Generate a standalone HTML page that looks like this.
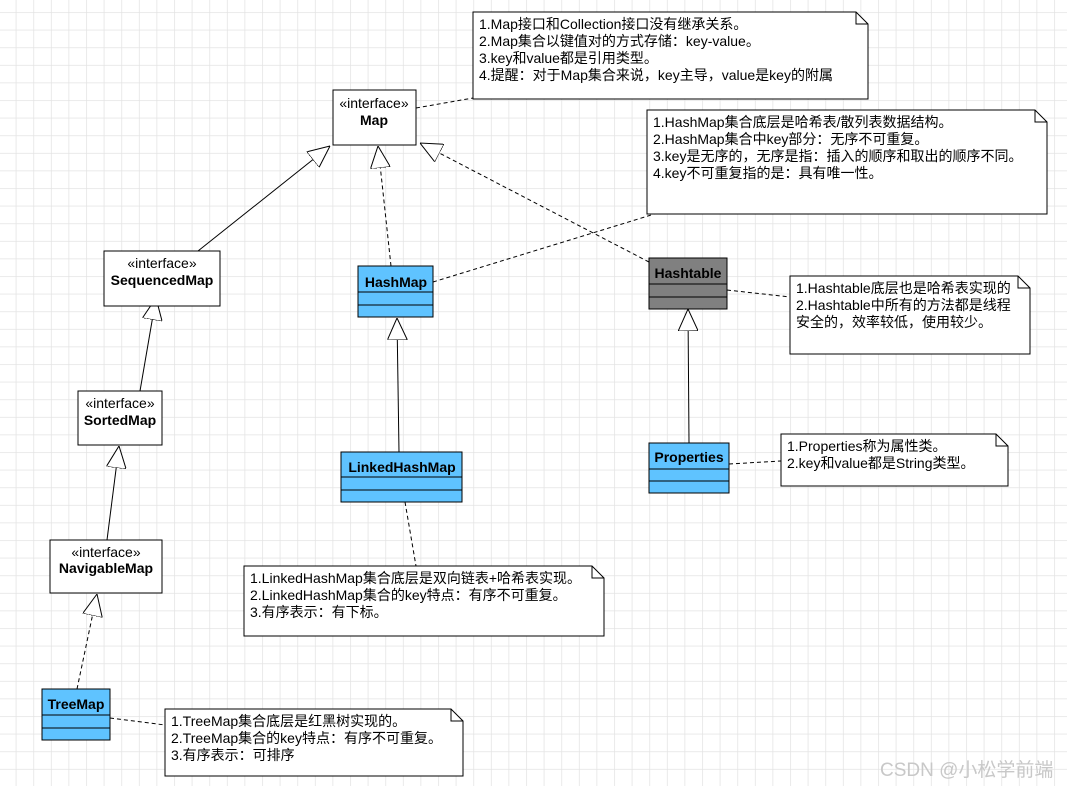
<!DOCTYPE html>
<html><head><meta charset="utf-8"><style>
body{margin:0;width:1067px;height:786px;overflow:hidden;background:#fff}
text{font-family:"Liberation Sans","Noto Sans CJK SC",sans-serif;font-size:14px;fill:#000}
.b{font-weight:bold}
.s{font-size:14px}
</style></head><body>
<svg width="1067" height="786" xmlns="http://www.w3.org/2000/svg">
<defs>
<pattern id="g" x="15.7" y="12.1" width="17.6" height="17.6" patternUnits="userSpaceOnUse">
<path d="M0 0V17.6M0 0H17.6" stroke="#e3e3e3" stroke-width="1.5" fill="none"/></pattern>
<marker id="t" viewBox="0 0 22 20" refX="22" refY="10" markerWidth="22" markerHeight="20" markerUnits="userSpaceOnUse" orient="auto">
<path d="M0 0L22 10L0 20Z" fill="#fff" stroke="#000" stroke-width="1"/></marker>
</defs>
<rect width="1067" height="786" fill="url(#g)"/>
<g stroke="#000" fill="none" stroke-width="1">
<line x1="198" y1="251" x2="330" y2="146" marker-end="url(#t)"/>
<line x1="391" y1="266" x2="378" y2="146" stroke-dasharray="4,3" marker-end="url(#t)"/>
<line x1="649" y1="262" x2="420" y2="143" stroke-dasharray="4,3" marker-end="url(#t)"/>
<line x1="140" y1="391" x2="156" y2="298" marker-end="url(#t)"/>
<line x1="107" y1="540" x2="119" y2="446" marker-end="url(#t)"/>
<line x1="77" y1="689" x2="97" y2="594" stroke-dasharray="4,3" marker-end="url(#t)"/>
<line x1="399" y1="452" x2="397" y2="318" marker-end="url(#t)"/>
<line x1="689" y1="443" x2="688" y2="309" marker-end="url(#t)"/>
<g stroke-dasharray="4,3">
<line x1="416" y1="108" x2="473" y2="98"/>
<line x1="433" y1="282" x2="661" y2="212"/>
<line x1="727" y1="290" x2="790" y2="297"/>
<line x1="729" y1="464" x2="781" y2="461"/>
<line x1="405" y1="502" x2="416" y2="566"/>
<line x1="110" y1="718" x2="165" y2="725"/>
</g>
</g>
<g stroke="#000" fill="#fff">
<rect x="333" y="90" width="83" height="55"/>
<rect x="104" y="251" width="116" height="55"/>
<rect x="78" y="391" width="84" height="54"/>
<rect x="50" y="540" width="112" height="53"/>
</g>
<text x="374" y="108" text-anchor="middle">«interface»</text><text x="374" y="125" text-anchor="middle" class="b">Map</text>
<text x="162" y="268" text-anchor="middle">«interface»</text><text x="162" y="285" text-anchor="middle" class="b">SequencedMap</text>
<text x="120" y="408" text-anchor="middle">«interface»</text><text x="120" y="425" text-anchor="middle" class="b">SortedMap</text>
<text x="106" y="557" text-anchor="middle">«interface»</text><text x="106" y="573" text-anchor="middle" class="b">NavigableMap</text>
<g stroke="#000">
<rect x="358" y="266" width="75" height="51" fill="#5fc3ff"/><line x1="358" y1="292" x2="433" y2="292"/><line x1="358" y1="305" x2="433" y2="305"/>
<rect x="341" y="452" width="121" height="50" fill="#5fc3ff"/><line x1="341" y1="477" x2="462" y2="477"/><line x1="341" y1="490" x2="462" y2="490"/>
<rect x="649" y="258" width="78" height="51" fill="#808080"/><line x1="649" y1="284" x2="727" y2="284"/><line x1="649" y1="297" x2="727" y2="297"/>
<rect x="649" y="443" width="80" height="50" fill="#5fc3ff"/><line x1="649" y1="469" x2="729" y2="469"/><line x1="649" y1="481" x2="729" y2="481"/>
<rect x="42" y="689" width="68" height="51" fill="#5fc3ff"/><line x1="42" y1="715" x2="110" y2="715"/><line x1="42" y1="728" x2="110" y2="728"/>
</g>
<text x="396" y="287" text-anchor="middle" class="b">HashMap</text>
<text x="402" y="472" text-anchor="middle" class="b">LinkedHashMap</text>
<text x="688" y="278" text-anchor="middle" class="b">Hashtable</text>
<text x="689" y="462" text-anchor="middle" class="b">Properties</text>
<text x="76" y="709" text-anchor="middle" class="b">TreeMap</text>
<g stroke="#000" fill="#fff">
<path d="M473 12H856L868 24V99H473Z"/><path d="M856 12V24H868" fill="none"/>
<path d="M647 110H1035L1047 122V214H647Z"/><path d="M1035 110V122H1047" fill="none"/>
<path d="M790 276H1018L1030 288V354H790Z"/><path d="M1018 276V288H1030" fill="none"/>
<path d="M781 434H996L1008 446V486H781Z"/><path d="M996 434V446H1008" fill="none"/>
<path d="M244 566H592L604 578V636H244Z"/><path d="M592 566V578H604" fill="none"/>
<path d="M165 709H451L463 721V776H165Z"/><path d="M451 709V721H463" fill="none"/>
</g>
<text x="479" y="29">1.Map接口和Collection接口没有继承关系。</text>
<text x="479" y="46">2.Map集合以键值对的方式存储：key-value。</text>
<text x="479" y="63">3.key和value都是引用类型。</text>
<text x="479" y="80">4.提醒：对于Map集合来说，key主导，value是key的附属</text>
<text x="653" y="127">1.HashMap集合底层是哈希表/散列表数据结构。</text>
<text x="653" y="144">2.HashMap集合中key部分：无序不可重复。</text>
<text x="653" y="161">3.key是无序的，无序是指：插入的顺序和取出的顺序不同。</text>
<text x="653" y="178">4.key不可重复指的是：具有唯一性。</text>
<text x="796" y="293">1.Hashtable底层也是哈希表实现的</text>
<text x="796" y="310">2.Hashtable中所有的方法都是线程</text>
<text x="796" y="327">安全的，效率较低，使用较少。</text>
<text x="787" y="451">1.Properties称为属性类。</text>
<text x="787" y="468">2.key和value都是String类型。</text>
<text x="250" y="583">1.LinkedHashMap集合底层是双向链表+哈希表实现。</text>
<text x="250" y="600">2.LinkedHashMap集合的key特点：有序不可重复。</text>
<text x="250" y="617">3.有序表示：有下标。</text>
<text x="171" y="726">1.TreeMap集合底层是红黑树实现的。</text>
<text x="171" y="743">2.TreeMap集合的key特点：有序不可重复。</text>
<text x="171" y="760">3.有序表示：可排序</text>
<text x="880" y="776" style="font-size:19px;fill:#c8c8c8">CSDN @小松学前端</text>
</svg>
</body></html>
